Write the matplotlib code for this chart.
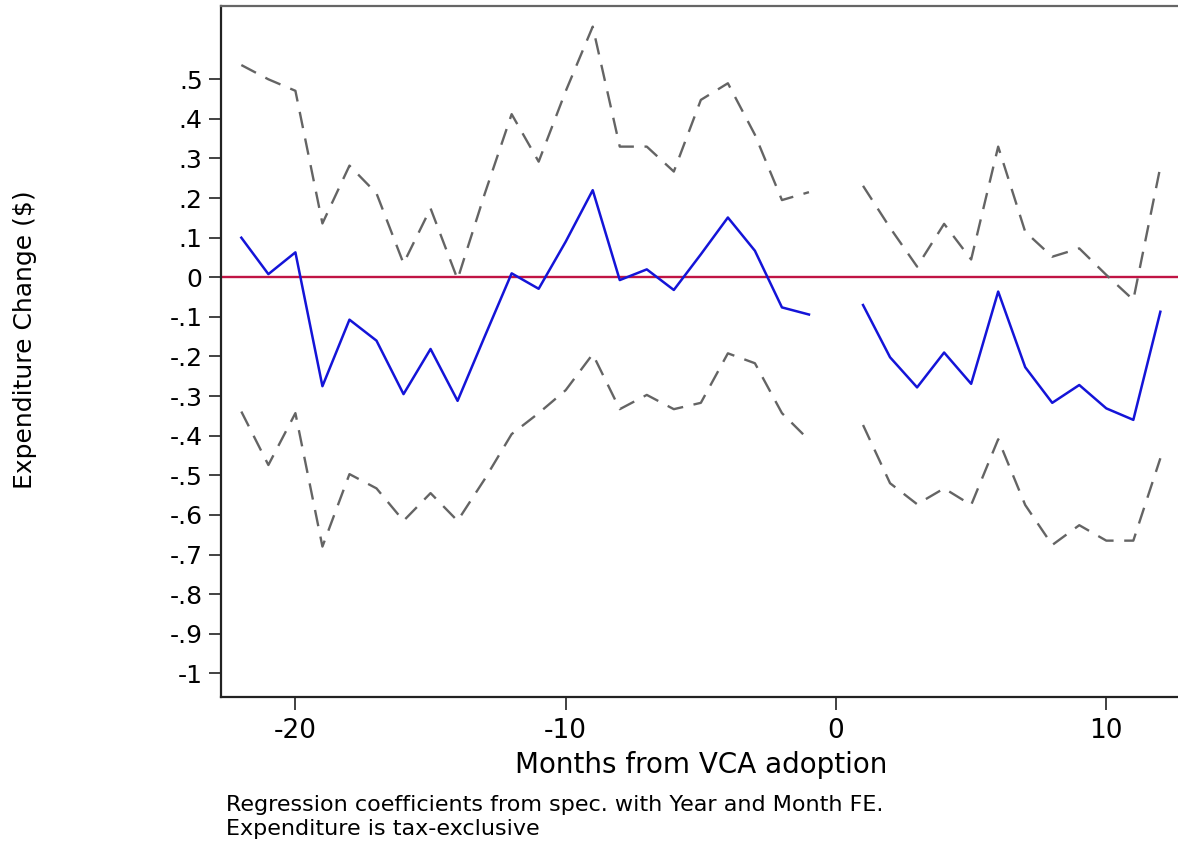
import numpy as np
import matplotlib
matplotlib.use("Agg")
import matplotlib.pyplot as plt

plt.rcParams['font.family'] = ['DejaVu Sans']

months = list(range(-22, 13))
nan = np.nan
coef = [0.100, 0.008, 0.063, -0.275, -0.107, -0.160, -0.295, -0.181, -0.312, -0.150,
        0.010, -0.029, 0.090, 0.220, -0.007, 0.020, -0.032, 0.058, 0.151, 0.067,
        -0.076, -0.094, nan,
        -0.070, -0.202, -0.278, -0.190, -0.269, -0.036, -0.227, -0.317, -0.272, -0.331,
        -0.360, -0.087]
upper = [0.536, 0.500, 0.471, 0.136, 0.282, 0.212, 0.035, 0.174, -0.005, 0.210,
         0.412, 0.292, 0.470, 0.633, 0.330, 0.330, 0.267, 0.448, 0.490, 0.360,
         0.195, 0.215, nan,
         0.231, 0.125, 0.027, 0.135, 0.045, 0.330, 0.115, 0.052, 0.073, 0.006,
         -0.057, 0.279]
lower = [-0.339, -0.474, -0.343, -0.680, -0.497, -0.533, -0.615, -0.545, -0.615, -0.510,
         -0.396, -0.343, -0.285, -0.194, -0.333, -0.297, -0.333, -0.317, -0.192, -0.217,
         -0.343, -0.411, nan,
         -0.373, -0.520, -0.573, -0.533, -0.575, -0.409, -0.575, -0.676, -0.626, -0.665,
         -0.665, -0.457]

yticks = [0.5, 0.4, 0.3, 0.2, 0.1, 0.0, -0.1, -0.2, -0.3, -0.4, -0.5, -0.6, -0.7, -0.8, -0.9, -1.0]
ytick_labels = [".5", ".4", ".3", ".2", ".1", "0", "-.1", "-.2", "-.3", "-.4", "-.5",
                "-.6", "-.7", "-.8", "-.9", "-1"]
xticks = [-20, -10, 0, 10]
xtick_labels = ["-20", "-10", "0", "10"]

W, H = 1178, 848
fig = plt.figure(figsize=(W / 100, H / 100), dpi=100)
left_px, right_px, top_px, bottom_px = 220.7, 1182, 6, 697
ax = fig.add_axes([left_px / W, 1 - bottom_px / H, (right_px - left_px) / W, (bottom_px - top_px) / H])

x0_px, unit_px = 836.0, 27.03
ax.set_xlim((left_px - x0_px) / unit_px, (right_px - x0_px) / unit_px)
y0_px, yunit_px = 277.3, 396.0
ax.set_ylim(-(bottom_px - y0_px) / yunit_px, (y0_px - top_px) / yunit_px)

ax.axhline(0, color="#c01444", lw=1.7, zorder=2)
ax.plot(months, upper, color="#646464", lw=1.7, dashes=(7, 4.5), zorder=3)
ax.plot(months, lower, color="#646464", lw=1.7, dashes=(7, 4.5), zorder=3)
ax.plot(months, coef, color="#1414d8", lw=1.8, zorder=4)

ax.set_yticks(yticks)
ax.set_yticklabels(ytick_labels)
ax.set_xticks(xticks)
ax.set_xticklabels(xtick_labels)
ax.tick_params(axis='y', length=9, width=1.3, pad=4, labelsize=18, color="#333333")
ax.tick_params(axis='x', length=9, width=1.3, pad=6, labelsize=19, color="#333333")

for s in ["left", "bottom"]:
    ax.spines[s].set_linewidth(1.6)
    ax.spines[s].set_color("#222222")
ax.spines["top"].set_linewidth(1.6)
ax.spines["top"].set_color("#666666")
ax.spines["right"].set_visible(False)

fig.text(25 / W, 1 - 340 / H, "Expenditure Change ($)", rotation=90, fontsize=18,
         ha="center", va="center")
fig.text(701 / W, 1 - 765 / H, "Months from VCA adoption", fontsize=20,
         ha="center", va="center")
fig.text(226 / W, 1 - 805 / H, "Regression coefficients from spec. with Year and Month FE.",
         fontsize=16, ha="left", va="center")
fig.text(226 / W, 1 - 829 / H, "Expenditure is tax-exclusive",
         fontsize=16, ha="left", va="center")

fig.savefig("out.png", dpi=100)
